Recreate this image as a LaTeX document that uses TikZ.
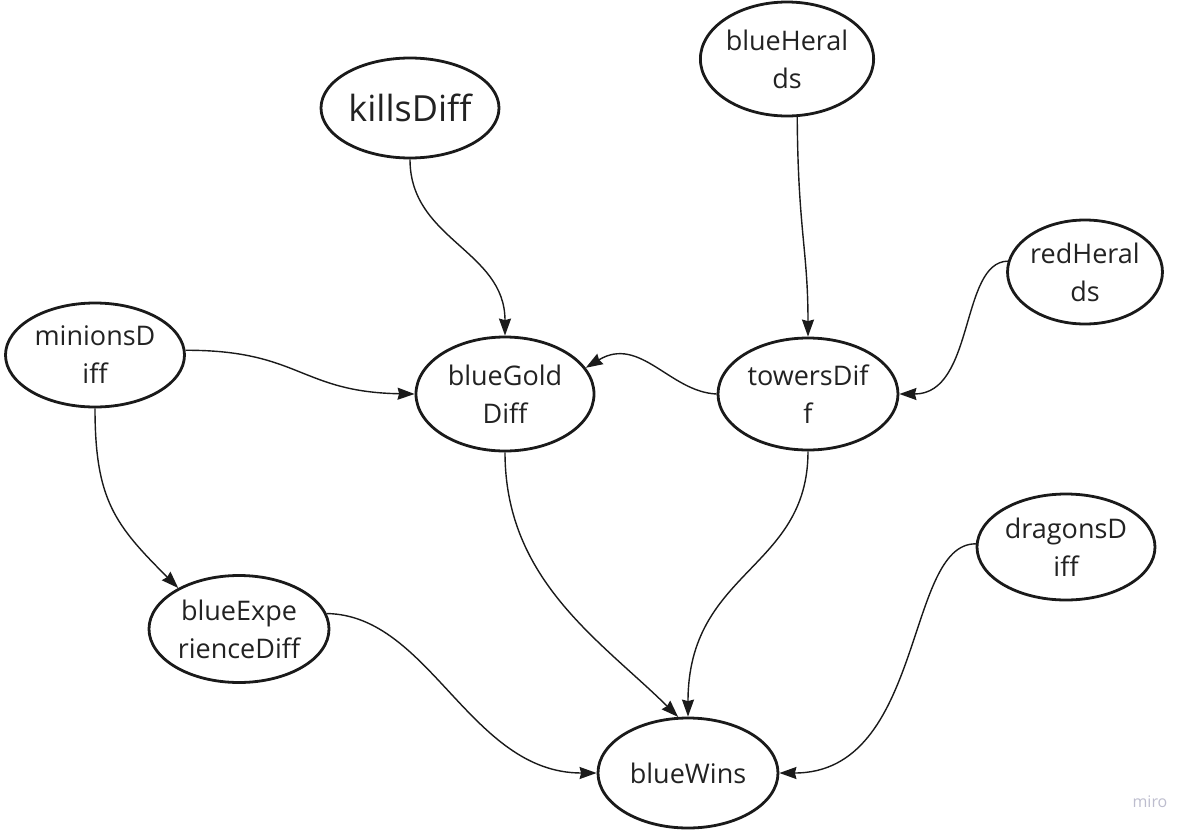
\documentclass[tikz,border=0pt]{standalone}
\usepackage{fontspec}
\setmainfont{Open Sans}
\usetikzlibrary{shapes.geometric,arrows.meta}
\definecolor{inkline}{HTML}{1A1A1A}
\definecolor{inktext}{HTML}{222222}
\definecolor{watermark}{HTML}{BDBDCE}
\begin{document}
\begin{tikzpicture}[x=1pt,y=-1pt,
  var/.style={ellipse,draw=inkline,line width=2.8pt,inner sep=0pt,
    text=inktext,align=center,font=\fontsize{27}{38}\selectfont},
  link/.style={draw=inkline,line width=1.4pt,
    -{Stealth[length=17pt,width=12pt,inset=1.5pt]}}]
\useasboundingbox (0,0) rectangle (1195,836);

% variables
\node[var,minimum width=178pt,minimum height=100pt,font=\fontsize{36}{42}\selectfont] (kills) at (410,108) {killsDiff};
\node[var,minimum width=157pt,minimum height=114pt] (bher) at (787,59) {blueHeral\\ds};
\node[var,minimum width=153pt,minimum height=104pt] (rher) at (1085,272) {redHeral\\ds};
\node[var,minimum width=179pt,minimum height=104pt] (minions) at (95,355) {minionsD\\iff};
\node[var,minimum width=178pt,minimum height=114pt] (gold) at (505,394) {blueGold\\Diff};
\node[var,minimum width=180pt,minimum height=112pt] (towers) at (808,394) {towersDif\\f};
\node[var,minimum width=178pt,minimum height=106pt] (dragons) at (1066,547) {dragonsD\\iff};
\node[var,minimum width=180pt,minimum height=107pt] (exp) at (239,629) {blueExpe\\rienceDiff};
\node[var,minimum width=180pt,minimum height=110pt] (wins) at (688,773) {blueWins};

% causal links
\draw[link] (kills.south) .. controls (410,240) and (505,250) .. (gold.north);
\draw[link] (minions.3) .. controls (300,350) and (300,392) .. (gold.west);
\draw[link] (towers.west) .. controls (670,392) and (640,335) .. (gold.18);
\draw[link] (bher.-80) .. controls (798,230) and (808,250) .. (towers.north);
\draw[link] (rher.172) .. controls (960,262) and (975,394) .. (towers.east);
\draw[link] (minions.south) .. controls (95,500) and (115,525) .. (exp.146);
\draw[link] (gold.south) .. controls (505,580) and (600,640) .. (wins.100);
\draw[link] (towers.south) .. controls (808,570) and (688,570) .. (wins.north);
\draw[link] (exp.10) .. controls (430,615) and (470,773) .. (wins.west);
\draw[link] (dragons.178) .. controls (905,543) and (925,773) .. (wins.east);

\node[text=watermark,font=\fontsize{16}{18}\selectfont] (brand) at (1150,802) {miro};
\end{tikzpicture}
\end{document}
